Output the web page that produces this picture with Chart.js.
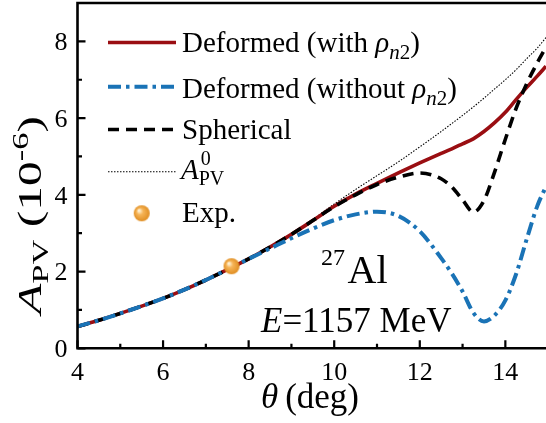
<!DOCTYPE html>
<html>
<head>
<meta charset="utf-8">
<script src="https://cdn.jsdelivr.net/npm/chart.js@4/dist/chart.umd.min.js"></script>
<style>
  html, body { margin: 0; padding: 0; background: #fff; }
  #wrap { width: 546px; height: 423px; }
</style>
</head>
<body>
<div id="wrap"><canvas id="chart" width="546" height="423"></canvas></div>
<script>
// ------------------------------------------------------------
// Data
// ------------------------------------------------------------
const thetaDeg = [4, 4.5, 5, 5.5, 6, 6.5, 7, 7.5, 8, 8.5, 9, 9.5, 10, 10.5, 11, 11.5,
  12, 12.5, 12.75, 13, 13.25, 13.5, 13.75, 14, 14.25, 14.5, 14.75, 14.95];

const deformedWith = [0.57, 0.73, 0.91, 1.10, 1.30, 1.53, 1.78, 2.05, 2.33, 2.64, 2.97, 3.33, 3.70, 4.02, 4.30, 4.57,
  4.83, 5.08, 5.20, 5.33, 5.46, 5.65, 5.88, 6.15, 6.48, 6.80, 7.10, 7.35];

const deformedWithout = [0.57, 0.73, 0.91, 1.10, 1.30, 1.53, 1.78, 2.05, 2.33, 2.60, 2.87, 3.12, 3.34, 3.49, 3.56, 3.45,
  3.05, 2.35, 1.95, 1.48, 0.93, 0.70, 0.86, 1.25, 1.93, 2.85, 3.72, 4.22];

const spherical = [0.57, 0.73, 0.91, 1.10, 1.30, 1.53, 1.78, 2.05, 2.33, 2.64, 2.97, 3.33, 3.69, 4.00, 4.27, 4.46,
  4.57, 4.42, 4.20, 3.87, 3.55, 3.85, 4.60, 5.45, 6.25, 6.90, 7.45, 7.85];

const apv0 = [0.57, 0.73, 0.91, 1.10, 1.30, 1.53, 1.78, 2.05, 2.33, 2.64, 2.98, 3.36, 3.76, 4.14, 4.50, 4.86,
  5.25, 5.65, 5.86, 6.07, 6.29, 6.52, 6.76, 7.00, 7.26, 7.55, 7.83, 8.10];

const expTheta = [7.6];
const expValue = [2.14];

const xTicks = [4, 6, 8, 10, 12, 14];
const yTicks = [0, 2, 4, 6, 8];

// ------------------------------------------------------------
// Styles
// ------------------------------------------------------------
const SERIF = '"Liberation Serif", "Times New Roman", serif';
const RED = '#9A0E12';
const BLUE = '#1A73B6';
const BLACK = '#000000';

const lineStyles = {
  red: { color: RED, width: 3.6, dash: [] },
  blue: { color: BLUE, width: 4, dash: [13, 5, 3.5, 5] },
  black: { color: BLACK, width: 3.6, dash: [11, 7] },
  dotted: { color: BLACK, width: 1.1, dash: [1.5, 1.5] }
};

function pts(ys) {
  return thetaDeg.map((t, i) => ({ x: t, y: ys[i] }));
}

// orange ball marker
function makeBall(r) {
  const c = document.createElement('canvas');
  c.width = c.height = r * 2 + 2;
  const g = c.getContext('2d');
  const cx = r + 1, cy = r + 1;
  const grad = g.createRadialGradient(cx - r * 0.35, cy - r * 0.35, r * 0.1, cx, cy, r);
  grad.addColorStop(0, '#FFF1D2');
  grad.addColorStop(0.35, '#F6B457');
  grad.addColorStop(1, '#E08E22');
  g.fillStyle = grad;
  g.beginPath();
  g.arc(cx, cy, r, 0, Math.PI * 2);
  g.fill();
  return c;
}
const ball = makeBall(8);

// ------------------------------------------------------------
// Rich text helpers (sub/superscripts)
// ------------------------------------------------------------
function fontOf(s) {
  return (s.it ? 'italic ' : '') + s.px + 'px ' + SERIF;
}

function richWidth(ctx, segs) {
  let w = 0;
  segs.forEach(s => {
    if (s.stack) return;
    ctx.font = fontOf(s);
    w += ctx.measureText(s.t).width;
  });
  return w;
}

function drawRich(ctx, segs, x, y) {
  let cx = x;
  segs.forEach(s => {
    ctx.font = fontOf(s);
    ctx.fillText(s.t, cx + (s.dx || 0), y + (s.dy || 0));
    if (!s.stack) cx += ctx.measureText(s.t).width;
  });
}

// ------------------------------------------------------------
// Plugins
// ------------------------------------------------------------
// axes frame, inward ticks and tick labels
const framePlugin = {
  id: 'frame',
  afterDraw(chart) {
    const { ctx, chartArea: a, scales } = chart;
    const xs = scales.x, ys = scales.y;
    ctx.save();
    ctx.strokeStyle = '#000';
    ctx.lineWidth = 2.6;
    ctx.lineCap = 'square';
    ctx.beginPath();
    ctx.moveTo(a.left, a.top);
    ctx.lineTo(a.left, a.bottom);
    ctx.lineTo(a.right + 4, a.bottom);
    ctx.moveTo(a.left, a.top);
    ctx.lineTo(a.right + 4, a.top);
    ctx.stroke();

    ctx.lineWidth = 2.2;
    ctx.lineCap = 'butt';
    ctx.beginPath();
    xs.ticks.forEach(t => {
      const px = xs.getPixelForValue(t.value);
      const len = xTicks.includes(t.value) ? 8 : 4.5;
      ctx.moveTo(px, a.bottom);
      ctx.lineTo(px, a.bottom - len);
    });
    ys.ticks.forEach(t => {
      const py = ys.getPixelForValue(t.value);
      const len = yTicks.includes(t.value) ? 8 : 4.5;
      ctx.moveTo(a.left, py);
      ctx.lineTo(a.left + len, py);
    });
    ctx.stroke();

    ctx.fillStyle = '#000';
    ctx.font = '26px ' + SERIF;
    ctx.textBaseline = 'alphabetic';
    ctx.textAlign = 'center';
    xTicks.forEach(v => {
      ctx.fillText(String(v), xs.getPixelForValue(v), 380);
    });
    ctx.textAlign = 'right';
    yTicks.forEach(v => {
      ctx.fillText(String(v), a.left - 10, ys.getPixelForValue(v) + 8.8);
    });
    ctx.restore();
  }
};

const textPlugin = {
  id: 'texts',
  afterDraw(chart) {
    const { ctx } = chart;
    ctx.save();
    ctx.fillStyle = '#000';
    ctx.textBaseline = 'alphabetic';
    ctx.textAlign = 'left';

    // y axis title (stretched along its length like the reference)
    const yTitle = [
      { t: 'A', px: 33, it: true },
      { t: 'PV', px: 23, dy: 6.5 },
      { t: ' (10', px: 33 },
      { t: '-6', px: 23, dy: -13 },
      { t: ')', px: 33 }
    ];
    ctx.save();
    ctx.translate(41, 215);
    ctx.rotate(-Math.PI / 2);
    ctx.scale(1.5, 1);
    drawRich(ctx, yTitle, -richWidth(ctx, yTitle) / 2, 0);
    ctx.restore();

    // x axis title
    const xTitle = [
      { t: 'θ', px: 35, it: true },
      { t: '\u2009(deg)', px: 35 }
    ];
    drawRich(ctx, xTitle, 310 - richWidth(ctx, xTitle) / 2, 408);

    // legend
    const samples = [
      { st: lineStyles.red, y: 42.5 },
      { st: lineStyles.blue, y: 86.7 },
      { st: lineStyles.black, y: 129.5 },
      { st: lineStyles.dotted, y: 171.7 }
    ];
    samples.forEach(s => {
      ctx.save();
      ctx.strokeStyle = s.st.color;
      ctx.lineWidth = s.st.width;
      ctx.setLineDash(s.st.dash);
      ctx.beginPath();
      ctx.moveTo(108, s.y);
      ctx.lineTo(176, s.y);
      ctx.stroke();
      ctx.restore();
    });
    const lx = 182;
    drawRich(ctx, [
      { t: 'Deformed (with ', px: 29 },
      { t: 'ρ', px: 29, it: true },
      { t: 'n', px: 21, it: true, dy: 7 },
      { t: '2', px: 21, dy: 7 },
      { t: ')', px: 29 }
    ], lx, 51.5);
    drawRich(ctx, [
      { t: 'Deformed (without ', px: 29 },
      { t: 'ρ', px: 29, it: true },
      { t: 'n', px: 21, it: true, dy: 7 },
      { t: '2', px: 21, dy: 7 },
      { t: ')', px: 29 }
    ], lx, 97.5);
    drawRich(ctx, [{ t: 'Spherical', px: 29 }], lx, 139);
    drawRich(ctx, [
      { t: 'A', px: 29, it: true },
      { t: '0', px: 20, dy: -14, dx: 2, stack: true },
      { t: 'PV', px: 20, dy: 6 }
    ], lx - 1, 179);
    ctx.drawImage(ball, 141.7 - ball.width / 2, 213.3 - ball.height / 2);
    drawRich(ctx, [{ t: 'Exp.', px: 29 }], lx, 221.7);

    // annotations
    drawRich(ctx, [{ t: '27', px: 24 }], 321, 265);
    drawRich(ctx, [{ t: 'Al', px: 40 }], 347.5, 283.3);
    drawRich(ctx, [
      { t: 'E', px: 35, it: true },
      { t: '=1157 MeV', px: 35 }
    ], 261, 331.7);

    ctx.restore();
  }
};

// ------------------------------------------------------------
// Chart
// ------------------------------------------------------------
function lineDs(label, ys, st, order) {
  return {
    label,
    data: pts(ys),
    borderColor: st.color,
    borderWidth: st.width,
    borderDash: st.dash,
    pointRadius: 0,
    fill: false,
    cubicInterpolationMode: 'monotone',
    order
  };
}

const ctx = document.getElementById('chart');

new Chart(ctx, {
  type: 'line',
  data: {
    datasets: [
      {
        type: 'scatter',
        label: 'Exp.',
        data: expTheta.map((t, i) => ({ x: t, y: expValue[i] })),
        pointStyle: ball,
        pointRadius: 8,
        order: 0
      },
      lineDs('Deformed (without ρn2)', deformedWithout, lineStyles.blue, 1),
      lineDs('Spherical', spherical, lineStyles.black, 2),
      lineDs('Deformed (with ρn2)', deformedWith, lineStyles.red, 3),
      lineDs('A0PV', apv0, lineStyles.dotted, 4)
    ]
  },
  options: {
    responsive: false,
    animation: false,
    devicePixelRatio: 1,
    layout: { autoPadding: false, padding: { top: 3, right: 0, left: 0, bottom: 0 } },
    plugins: {
      legend: { display: false },
      tooltip: { enabled: false }
    },
    scales: {
      x: {
        type: 'linear',
        min: 4,
        max: 14.95,
        grid: { display: false, drawTicks: false },
        border: { display: false },
        afterFit: (scale) => { scale.height = 74.7; },
        ticks: { display: false, stepSize: 1, includeBounds: false }
      },
      y: {
        type: 'linear',
        min: 0,
        max: 9,
        grid: { display: false, drawTicks: false },
        border: { display: false },
        afterFit: (scale) => { scale.width = 77.5; },
        ticks: { display: false, stepSize: 1, includeBounds: false }
      }
    }
  },
  plugins: [framePlugin, textPlugin]
});
</script>
</body>
</html>
